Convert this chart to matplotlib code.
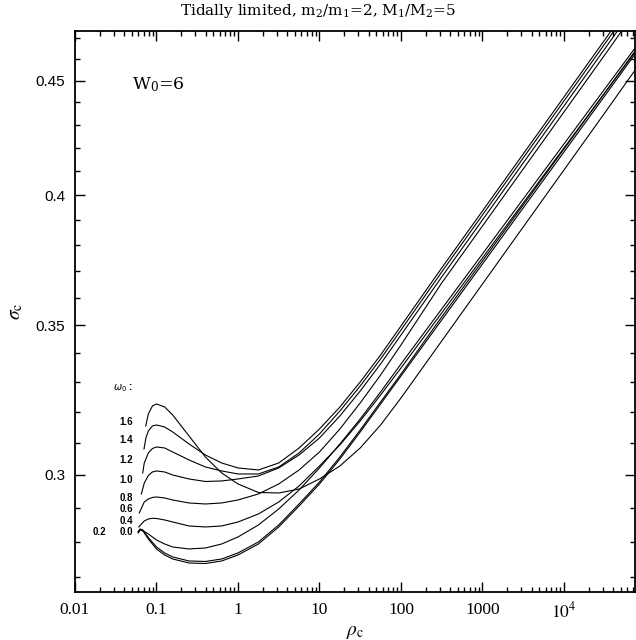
import matplotlib
matplotlib.use("Agg")
import matplotlib.pyplot as plt
from matplotlib.ticker import NullFormatter

# omega_0 values of the sequences
omega0 = ["1.6", "1.4", "1.2", "1.0", "0.8", "0.6", "0.4", "0.2", "0.0"]

# common rho_c grid (from 0.1 upwards)
rho_tail = [0.1, 0.126, 0.158, 0.251, 0.398, 0.631, 1.0, 1.78, 3.16, 5.62,
            10.0, 17.8, 31.6, 56.2, 100.0, 316.0, 1000.0, 3160.0, 1.0e4,
            3.16e4, 7.94e4]

# start of each sequence (rho_c < 0.1)
rho_head_16 = [0.0738, 0.0794, 0.0891]
sig_head_16 = [0.31550, 0.31941, 0.32205]
rho_head_14 = [0.0703, 0.0741, 0.0794, 0.0891]
sig_head_14 = [0.30813, 0.31163, 0.31388, 0.31550]
rho_head_12 = [0.0678, 0.0708, 0.0794, 0.0891]
sig_head_12 = [0.30062, 0.30372, 0.30686, 0.30828]
rho_head_10 = [0.0652, 0.0708, 0.0794, 0.0891]
sig_head_10 = [0.29420, 0.29754, 0.29985, 0.30093]
rho_head_08 = [0.0615, 0.0708, 0.0794, 0.0891]
sig_head_08 = [0.28851, 0.29179, 0.29269, 0.29314]
rho_head_06 = [0.0605, 0.0708, 0.0794, 0.0891]
sig_head_06 = [0.28439, 0.28615, 0.28673, 0.28694]
rho_head_04 = [0.0596, 0.0631, 0.0708, 0.0794]
sig_head_04 = [0.28264, 0.28351, 0.28307, 0.28235]
rho_head_02 = [0.0596, 0.0631, 0.0676, 0.0708, 0.0794]
sig_head_02 = [0.28307, 0.28380, 0.28351, 0.28293, 0.28133]
rho_head_00 = [0.0596, 0.0631, 0.0676, 0.0708, 0.0794]
sig_head_00 = [0.28293, 0.28366, 0.28337, 0.28264, 0.28090]

# sigma_c on rho_tail
sig_tail_16 = [0.32271, 0.32172, 0.31909, 0.31227, 0.30560, 0.30062, 0.29724,
               0.29465, 0.29450, 0.29571, 0.29877, 0.30279, 0.30844, 0.31582,
               0.32471, 0.34430, 0.36508, 0.38711, 0.41047, 0.43524, 0.45632]
sig_tail_14 = [0.31582, 0.31517, 0.31356, 0.30971, 0.30623, 0.30372, 0.30217,
               0.30155, 0.30372, 0.30844, 0.31453, 0.32172, 0.33010, 0.33938,
               0.34965, 0.37114, 0.39353, 0.41728, 0.44246, 0.46916, 0.49187]
sig_tail_12 = [0.30876, 0.30844, 0.30718, 0.30466, 0.30248, 0.30124, 0.30031,
               0.30031, 0.30248, 0.30686, 0.31292, 0.32040, 0.32874, 0.33799,
               0.34822, 0.36961, 0.39192, 0.41557, 0.44064, 0.46723, 0.48986]
sig_tail_10 = [0.30124, 0.30093, 0.30000, 0.29877, 0.29800, 0.29816, 0.29877,
               0.29969, 0.30217, 0.30623, 0.31163, 0.31876, 0.32705, 0.33626,
               0.34643, 0.36772, 0.38991, 0.41344, 0.43838, 0.46484, 0.48734]
sig_tail_08 = [0.29329, 0.29299, 0.29239, 0.29149, 0.29119, 0.29149, 0.29239,
               0.29420, 0.29724, 0.30155, 0.30718, 0.31453, 0.32305, 0.33248,
               0.34289, 0.36546, 0.38751, 0.41089, 0.43569, 0.46198, 0.48435]
sig_tail_06 = [0.28688, 0.28644, 0.28585, 0.28468, 0.28439, 0.28468, 0.28585,
               0.28821, 0.29179, 0.29663, 0.30279, 0.30940, 0.31712, 0.32571,
               0.33488, 0.35436, 0.37497, 0.39678, 0.41986, 0.44428, 0.46484]
sig_tail_04 = [0.28061, 0.27946, 0.27860, 0.27803, 0.27831, 0.27946, 0.28148,
               0.28497, 0.28970, 0.29541, 0.30217, 0.30971, 0.31778, 0.32672,
               0.33626, 0.35582, 0.37652, 0.39842, 0.42159, 0.44611, 0.46675]
sig_tail_02 = [0.27860, 0.27689, 0.27575, 0.27462, 0.27448, 0.27518, 0.27689,
               0.28004, 0.28497, 0.29119, 0.29785, 0.30560, 0.31420, 0.32338,
               0.33282, 0.35291, 0.37382, 0.39596, 0.41943, 0.44428, 0.46531]
sig_tail_00 = [0.27803, 0.27632, 0.27518, 0.27405, 0.27391, 0.27462, 0.27632,
               0.27946, 0.28439, 0.29059, 0.29724, 0.30497, 0.31356, 0.32271,
               0.33214, 0.35182, 0.37266, 0.39475, 0.41814, 0.44291, 0.46388]

heads = [(rho_head_16, sig_head_16), (rho_head_14, sig_head_14),
         (rho_head_12, sig_head_12), (rho_head_10, sig_head_10),
         (rho_head_08, sig_head_08), (rho_head_06, sig_head_06),
         (rho_head_04, sig_head_04), (rho_head_02, sig_head_02),
         (rho_head_00, sig_head_00)]
tails = [sig_tail_16, sig_tail_14, sig_tail_12, sig_tail_10, sig_tail_08,
         sig_tail_06, sig_tail_04, sig_tail_02, sig_tail_00]

# where the omega_0 labels sit (data coords)
label_rho = 0.0515
label_sigma = [0.31680, 0.31099, 0.30466, 0.29846, 0.29299, 0.28970,
               0.28615, None, 0.28293]
label_rho_02 = 0.024

x_major = [0.01, 0.1, 1, 10, 100, 1000, 1e4]
x_labels = ["0.01", "0.1", "1", "10", "100", "1000", r"$10^4$"]
y_major = [0.3, 0.35, 0.4, 0.45]
y_labels = ["0.3", "0.35", "0.4", "0.45"]

fig = plt.figure(figsize=(6.36, 6.40), dpi=100)
ax = fig.add_axes([0.1179, 0.075, 0.8805, 0.8766])

for (rh, sh), st in zip(heads, tails):
    ax.plot(rh + rho_tail, sh + st, color="black", lw=0.8)

ax.set_xscale("log")
ax.set_yscale("log")

# ticks
x_minor = [k * 10.0 ** d for d in range(-2, 5) for k in range(2, 10)]
y_minor = [v / 100 for v in range(27, 48) if v not in (30, 35, 40, 45)]
ax.set_xticks(x_major)
ax.set_xticklabels(x_labels, fontfamily="Liberation Serif", fontsize=12.5,
                   math_fontfamily="stix")
ax.set_xticks(x_minor, minor=True)
ax.set_yticks(y_major)
ax.set_yticklabels(y_labels, fontfamily="Liberation Sans", fontsize=11)
ax.set_yticks(y_minor, minor=True)
ax.xaxis.set_minor_formatter(NullFormatter())
ax.yaxis.set_minor_formatter(NullFormatter())
ax.set_xlim(0.01, 7.43e4)
ax.set_ylim(0.266, 0.4735)
ax.tick_params(which="both", direction="in", top=True, right=True, width=1)
ax.tick_params(which="major", length=7, pad=7)
ax.tick_params(which="minor", length=3.6)
for sp in ax.spines.values():
    sp.set_linewidth(1.3)

ax.set_xlabel(r"$\rho_{\rm c}$", fontsize=14, math_fontfamily="stix",
              labelpad=0)
ax.set_ylabel(r"$\sigma_{\rm c}$", fontsize=14, math_fontfamily="stix",
              labelpad=8)

fig.text(0.5, 1 - 11 / 640,
         r"Tidally limited, m$_2$/m$_1$=2, M$_1$/M$_2$=5",
         ha="center", va="center", fontfamily="DejaVu Serif", fontsize=11,
         math_fontfamily="dejavuserif")
ax.text(0.101, 0.905, r"W$_0$=6", transform=ax.transAxes, ha="left",
        va="center", fontfamily="DejaVu Serif", fontsize=12.5,
        math_fontfamily="dejavuserif")

# omega_0 labels
ax.text(label_rho, 0.32807, r"$\omega_0$ :", ha="right", va="center",
        fontsize=7, fontweight="bold", fontfamily="Liberation Sans")
for lab, ys in zip(omega0, label_sigma):
    if ys is None:
        continue
    ax.text(label_rho, ys, lab, ha="right", va="center", fontsize=7,
            fontweight="bold", fontfamily="Liberation Sans")
ax.text(label_rho_02, 0.28293, "0.2", ha="right", va="center", fontsize=7,
        fontweight="bold", fontfamily="Liberation Sans")

fig.savefig("out.png", dpi=100)
